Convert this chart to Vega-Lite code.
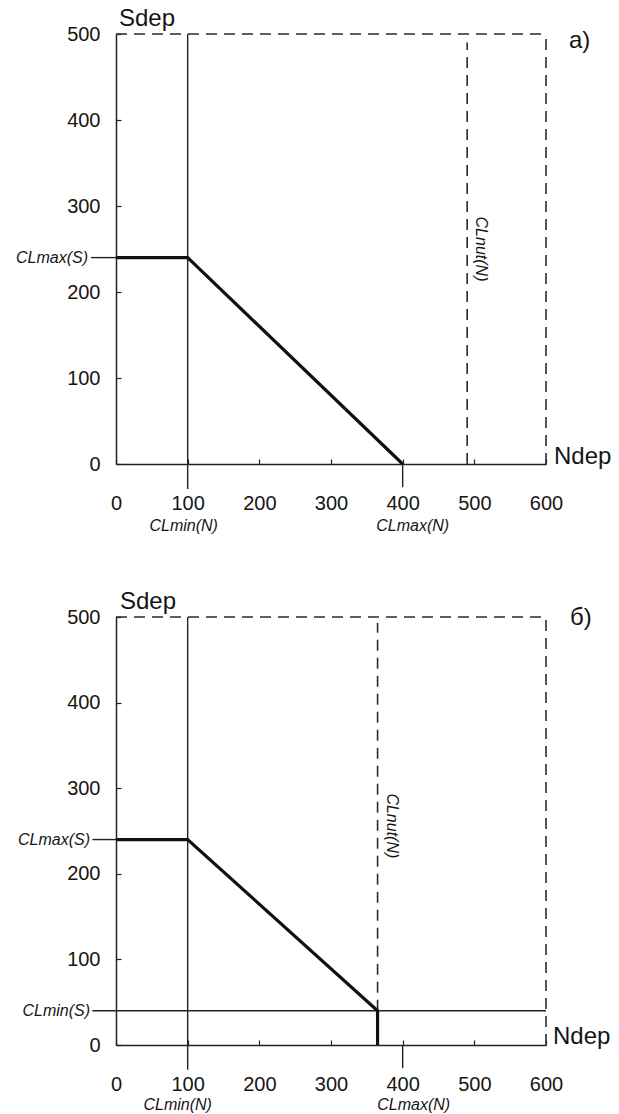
{
  "$schema": "https://vega.github.io/schema/vega-lite/v6.json",
  "background": "white",
  "padding": {"left": 15, "top": 7, "right": 2, "bottom": 0},
  "spacing": 56,
  "config": {
    "view": {"stroke": null},
    "font": "Liberation Sans",
    "axisX": {"title": null, "grid": false, "domainColor": "#222", "domainWidth": 1.5, "tickColor": "#222", "tickSize": -5, "tickWidth": 1.2, "labelFontSize": 20, "labelColor": "#151515", "labelPadding": 34, "labelFlush": false, "labelOverlap": false, "labelFont": "Liberation Sans"},
    "axisY": {"title": null, "grid": false, "domainColor": "#222", "domainWidth": 1.5, "tickColor": "#222", "tickSize": -5, "tickWidth": 1.2, "labelFontSize": 20, "labelColor": "#151515", "labelPadding": 21, "labelFlush": false, "labelOverlap": false, "labelFont": "Liberation Sans"},
    "text": {"font": "Liberation Sans", "color": "#151515"}
  },
  "datasets": {
    "linesA": [
      {"type": "border", "N": 0, "N2": 600, "S": 500, "S2": 500},
      {"type": "border", "N": 600, "N2": 600, "S": 0, "S2": 500},
      {"type": "CLnut(N)", "N": 490, "N2": 490, "S": 0, "S2": 490},
      {"type": "CLmin(N)", "N": 100, "N2": 100, "S": -29, "S2": 500},
      {"type": "CLmax(N)", "N": 400, "N2": 400, "S": -27, "S2": 0},
      {"type": "CLmax(S)", "N": -35, "N2": 0, "S": 240, "S2": 240}
    ],
    "curveA": [
      {"i": 1, "N": 0, "S": 240},
      {"i": 2, "N": 100, "S": 240},
      {"i": 3, "N": 400, "S": 0}
    ],
    "linesB": [
      {"type": "border", "N": 0, "N2": 600, "S": 500, "S2": 500},
      {"type": "border", "N": 600, "N2": 600, "S": 0, "S2": 500},
      {"type": "CLnut(N)", "N": 365, "N2": 365, "S": 40, "S2": 493},
      {"type": "CLmin(N)", "N": 100, "N2": 100, "S": -29, "S2": 500},
      {"type": "CLmax(N)", "N": 400, "N2": 400, "S": -27, "S2": 0},
      {"type": "CLmax(S)", "N": -33, "N2": 0, "S": 240, "S2": 240},
      {"type": "CLmin(S)", "N": -33, "N2": 600, "S": 40, "S2": 40}
    ],
    "curveB": [
      {"i": 1, "N": 0, "S": 240},
      {"i": 2, "N": 100, "S": 240},
      {"i": 3, "N": 365, "S": 40},
      {"i": 4, "N": 365, "S": 0}
    ]
  },
  "vconcat": [
    {
      "width": 430,
      "height": 430,
      "encoding": {
        "x": {"field": "N", "type": "quantitative", "scale": {"domain": [0, 600], "nice": false, "zero": false}, "axis": {"values": [0, 100, 200, 300, 400, 500, 600]}},
        "y": {"field": "S", "type": "quantitative", "scale": {"domain": [0, 500], "nice": false, "zero": false}, "axis": {"values": [0, 100, 200, 300, 400, 500]}}
      },
      "layer": [
        {"data": {"name": "linesA"}, "transform": [{"filter": "datum.type == 'border' || datum.type == 'CLnut(N)'"}],
         "mark": {"type": "rule", "strokeDash": [11, 7], "strokeWidth": 1.6, "color": "#2a2a2a"},
         "encoding": {"x2": {"field": "N2"}, "y2": {"field": "S2"}}},
        {"data": {"name": "linesA"}, "transform": [{"filter": "datum.type != 'border' && datum.type != 'CLnut(N)'"}],
         "mark": {"type": "rule", "strokeWidth": 1.4, "color": "#222"},
         "encoding": {"x2": {"field": "N2"}, "y2": {"field": "S2"}}},
        {"data": {"name": "curveA"}, "mark": {"type": "line", "strokeWidth": 3.2, "color": "#111", "strokeJoin": "miter"},
         "encoding": {"order": {"field": "i", "type": "quantitative"}}},
        {"data": {"values": [{"t": "Sdep", "N": 0, "S": 500}]}, "mark": {"type": "text", "align": "left", "baseline": "middle", "dx": 3, "dy": -15, "fontSize": 24}, "encoding": {"text": {"field": "t"}}},
        {"data": {"values": [{"t": "Ndep", "N": 600, "S": 0}]}, "mark": {"type": "text", "align": "left", "baseline": "middle", "dx": 8, "dy": -7, "fontSize": 24}, "encoding": {"text": {"field": "t"}}},
        {"data": {"values": [{"t": "a)", "N": 600, "S": 500}]}, "mark": {"type": "text", "align": "left", "baseline": "middle", "dx": 23, "dy": 7, "fontSize": 24}, "encoding": {"text": {"field": "t"}}},
        {"data": {"values": [{"t": "CLmax(S)", "N": 0, "S": 240}]}, "mark": {"type": "text", "align": "right", "baseline": "middle", "dx": -28, "fontSize": 16, "fontStyle": "italic"}, "encoding": {"text": {"field": "t"}}},
        {"data": {"values": [{"t": "CLmin(N)", "N": 100, "S": 0}]}, "mark": {"type": "text", "align": "center", "baseline": "middle", "dx": -4, "dy": 62, "fontSize": 16, "fontStyle": "italic"}, "encoding": {"text": {"field": "t"}}},
        {"data": {"values": [{"t": "CLmax(N)", "N": 400, "S": 0}]}, "mark": {"type": "text", "align": "center", "baseline": "middle", "dx": 10, "dy": 62, "fontSize": 16, "fontStyle": "italic"}, "encoding": {"text": {"field": "t"}}},
        {"data": {"values": [{"t": "CLnut(N)", "N": 490, "S": 250}]}, "mark": {"type": "text", "align": "center", "baseline": "bottom", "angle": 90, "dy": -6, "fontSize": 16, "fontStyle": "italic"}, "encoding": {"text": {"field": "t"}}}
      ]
    },
    {
      "width": 430,
      "height": 428,
      "encoding": {
        "x": {"field": "N", "type": "quantitative", "scale": {"domain": [0, 600], "nice": false, "zero": false}, "axis": {"values": [0, 100, 200, 300, 400, 500, 600]}},
        "y": {"field": "S", "type": "quantitative", "scale": {"domain": [0, 500], "nice": false, "zero": false}, "axis": {"values": [0, 100, 200, 300, 400, 500]}}
      },
      "layer": [
        {"data": {"name": "linesB"}, "transform": [{"filter": "datum.type == 'border' || datum.type == 'CLnut(N)'"}],
         "mark": {"type": "rule", "strokeDash": [11, 7], "strokeWidth": 1.6, "color": "#2a2a2a"},
         "encoding": {"x2": {"field": "N2"}, "y2": {"field": "S2"}}},
        {"data": {"name": "linesB"}, "transform": [{"filter": "datum.type != 'border' && datum.type != 'CLnut(N)'"}],
         "mark": {"type": "rule", "strokeWidth": 1.4, "color": "#222"},
         "encoding": {"x2": {"field": "N2"}, "y2": {"field": "S2"}}},
        {"data": {"name": "curveB"}, "mark": {"type": "line", "strokeWidth": 3.2, "color": "#111", "strokeJoin": "miter"},
         "encoding": {"order": {"field": "i", "type": "quantitative"}}},
        {"data": {"values": [{"t": "Sdep", "N": 0, "S": 500}]}, "mark": {"type": "text", "align": "left", "baseline": "middle", "dx": 4, "dy": -15, "fontSize": 24}, "encoding": {"text": {"field": "t"}}},
        {"data": {"values": [{"t": "Ndep", "N": 600, "S": 0}]}, "mark": {"type": "text", "align": "left", "baseline": "middle", "dx": 7, "dy": -8, "fontSize": 24}, "encoding": {"text": {"field": "t"}}},
        {"data": {"values": [{"t": "б)", "N": 600, "S": 500}]}, "mark": {"type": "text", "align": "left", "baseline": "middle", "dx": 24, "dy": 1, "fontSize": 24}, "encoding": {"text": {"field": "t"}}},
        {"data": {"values": [{"t": "CLmax(S)", "N": 0, "S": 240}]}, "mark": {"type": "text", "align": "right", "baseline": "middle", "dx": -26, "fontSize": 16, "fontStyle": "italic"}, "encoding": {"text": {"field": "t"}}},
        {"data": {"values": [{"t": "CLmin(S)", "N": 0, "S": 40}]}, "mark": {"type": "text", "align": "right", "baseline": "middle", "dx": -26, "fontSize": 16, "fontStyle": "italic"}, "encoding": {"text": {"field": "t"}}},
        {"data": {"values": [{"t": "CLmin(N)", "N": 100, "S": 0}]}, "mark": {"type": "text", "align": "center", "baseline": "middle", "dx": -10, "dy": 60, "fontSize": 16, "fontStyle": "italic"}, "encoding": {"text": {"field": "t"}}},
        {"data": {"values": [{"t": "CLmax(N)", "N": 400, "S": 0}]}, "mark": {"type": "text", "align": "center", "baseline": "middle", "dx": 11, "dy": 60, "fontSize": 16, "fontStyle": "italic"}, "encoding": {"text": {"field": "t"}}},
        {"data": {"values": [{"t": "CLnut(N)", "N": 365, "S": 256}]}, "mark": {"type": "text", "align": "center", "baseline": "bottom", "angle": 90, "dy": -6, "fontSize": 16, "fontStyle": "italic"}, "encoding": {"text": {"field": "t"}}}
      ]
    }
  ]
}
